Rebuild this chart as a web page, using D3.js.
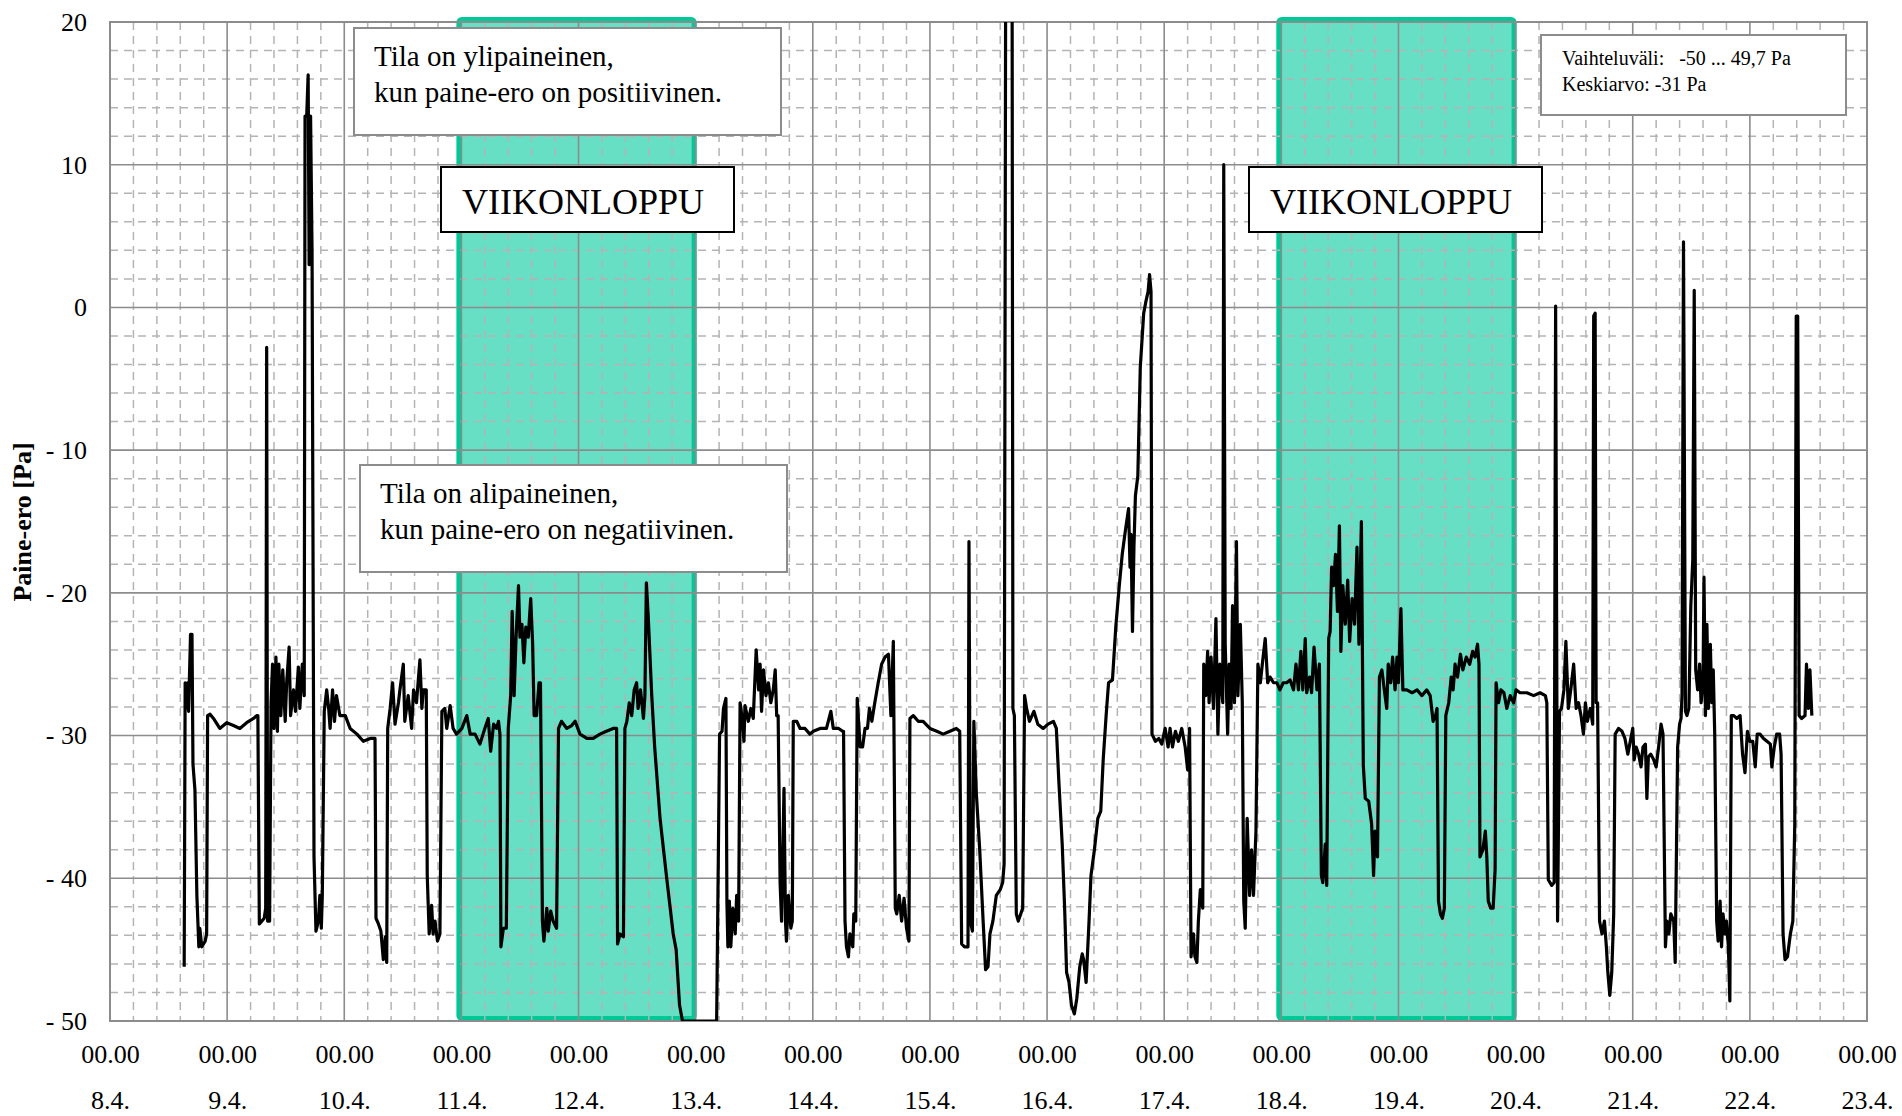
<!DOCTYPE html>
<html>
<head>
<meta charset="utf-8">
<script src="https://cdn.jsdelivr.net/npm/d3@7"></script>
<style>
  html, body { margin: 0; padding: 0; background: #fff; }
  svg { display: block; font-family: "Liberation Serif", "Times New Roman", serif; }
</style>
</head>
<body>
<svg id="chart" width="1902" height="1116"></svg>
<script>
// päivämäärät x-akselilla (klo 00.00 kunkin päivän alussa)
const dayLabels = ['8.4.', '9.4.', '10.4.', '11.4.', '12.4.', '13.4.', '14.4.', '15.4.',
  '16.4.', '17.4.', '18.4.', '19.4.', '20.4.', '21.4.', '22.4.', '23.4.'];
const yTicks = [20, 10, 0, -10, -20, -30, -40, -50];
// viikonloput, tunteina alkaen 8.4. klo 00.00
const weekendStart = [72, 240];
const weekendEnd = [120, 288];

// mittausaika tunteina 8.4. klo 00.00 alkaen
const hours = [
  15.2, 15.4, 15.6, 15.9, 16.1, 16.5, 16.8, 17.0, 17.4, 17.8, 18.2, 18.4, 18.8, 19.5, 19.8, 20.0,
  20.5, 21.2, 22.5, 23.9, 25.3, 26.6, 28.0, 29.4, 30.1, 30.3, 30.6, 31.1, 31.6, 31.9, 32.1, 32.3,
  32.7, 33.0, 33.3, 33.6, 34.0, 34.3, 34.6, 35.0, 35.4, 35.9, 36.2, 36.7, 37.0, 37.6, 38.0, 38.6,
  38.9, 39.4, 39.8, 39.96, 40.3, 40.6, 40.8, 41.1, 41.4, 41.8, 42.2, 42.7, 43.0, 43.3, 43.5, 43.9,
  44.4, 44.8, 45.1, 45.6, 46.0, 46.4, 47.1, 48.2, 49.2, 50.6, 51.9, 53.3, 54.3, 54.5, 55.0, 55.5,
  56.0, 56.4, 56.7, 56.9, 57.4, 57.9, 58.4, 59.1, 59.4, 60.1, 60.4, 61.1, 61.8, 62.2, 62.8, 63.5,
  63.9, 64.2, 64.8, 65.0, 65.4, 65.9, 66.2, 66.6, 67.1, 67.6, 68.0, 68.6, 69.0, 69.7, 70.3, 71.0,
  72.1, 73.1, 73.8, 74.8, 75.8, 76.8, 77.5, 78.0, 78.6, 79.2, 79.6, 79.9, 80.1, 80.6, 81.2, 81.6,
  82.1, 82.4, 82.8, 83.2, 83.7, 84.0, 84.4, 84.8, 85.2, 85.7, 86.2, 86.6, 86.9, 87.4, 87.9, 88.2,
  88.6, 88.9, 89.5, 89.8, 90.3, 90.8, 91.5, 91.9, 92.5, 93.6, 94.6, 95.3, 96.3, 97.7, 99.0, 100.4,
  101.7, 103.1, 103.8, 104.0, 104.5, 105.2, 105.5, 105.9, 106.4, 106.9, 107.4, 107.9, 108.2, 108.7, 109.3, 109.6,
  109.9, 110.3, 111.0, 111.6, 112.7, 114.0, 115.4, 116.0, 116.7, 117.3, 124.3, 124.9, 125.4, 125.7, 126.2, 126.4,
  126.6, 126.9, 127.2, 127.6, 128.1, 128.4, 128.8, 129.1, 129.6, 129.9, 130.1, 130.8, 131.3, 131.8, 132.4, 132.9,
  133.2, 133.5, 133.9, 134.4, 134.9, 135.4, 135.9, 136.3, 136.6, 136.9, 137.3, 137.6, 138.1, 138.4, 138.6, 139.0,
  139.5, 139.8, 140.0, 140.7, 141.4, 142.4, 143.4, 144.1, 145.5, 146.8, 147.7, 148.2, 149.3, 150.1, 150.3, 150.6,
  150.9, 151.3, 151.6, 152.2, 152.4, 152.8, 153.1, 153.7, 154.2, 154.7, 155.2, 155.6, 156.1, 156.7, 157.4, 158.1,
  158.8, 159.5, 160.0, 160.5, 160.9, 161.2, 161.7, 162.2, 162.7, 163.2, 163.7, 163.9, 164.6, 165.6, 166.6, 168.0,
  169.4, 170.7, 172.1, 173.4, 174.1, 174.5, 175.1, 175.8, 176.0, 176.3, 176.7, 177.0, 177.5, 178.2, 178.9, 179.4,
  179.9, 180.3, 180.9, 181.6, 182.4, 182.9, 183.2, 183.65, 184.75, 185.0, 185.3, 185.7, 186.1, 186.6, 187.0, 187.4,
  187.8, 188.4, 189.3, 190.1, 191.2, 192.2, 193.3, 193.9, 194.4, 195.1, 195.6, 196.0, 196.5, 197.0, 197.6, 198.1,
  198.7, 199.2, 199.5, 200.0, 200.6, 201.0, 201.7, 202.4, 203.0, 203.5, 204.1, 204.6, 205.4, 206.1, 206.8, 207.4,
  208.1, 208.7, 209.0, 209.2, 209.5, 209.8, 210.1, 210.6, 211.1, 211.8, 212.3, 212.7, 213.0, 213.3, 213.5, 214.2,
  214.9, 215.5, 216.2, 216.8, 217.2, 217.7, 218.3, 218.9, 219.6, 220.3, 220.8, 221.2, 221.5, 222.0, 222.3, 222.7,
  223.0, 223.4, 223.9, 224.1, 224.5, 224.9, 225.2, 225.6, 226.1, 226.6, 227.0, 227.4, 228.0, 228.2, 228.5, 229.0,
  229.3, 229.7, 230.0, 230.4, 230.8, 231.1, 231.6, 232.0, 232.3, 232.6, 233.0, 233.5, 233.9, 234.3, 234.8, 235.2,
  235.7, 236.1, 236.7, 237.2, 237.7, 238.4, 239.1, 239.7, 240.4, 241.1, 241.8, 242.5, 243.0, 243.5, 244.0, 244.4,
  244.9, 245.2, 245.8, 246.2, 246.7, 247.3, 247.8, 248.2, 248.5, 249.0, 249.3, 249.7, 250.0, 250.3, 250.7, 251.1,
  251.5, 251.9, 252.2, 252.6, 253.1, 253.6, 254.0, 254.5, 255.0, 255.5, 255.9, 256.4, 256.8, 257.2, 257.9, 258.5,
  258.9, 259.2, 259.7, 260.1, 260.6, 261.1, 261.6, 261.9, 262.4, 262.8, 263.3, 263.7, 264.0, 264.5, 264.9, 265.7,
  266.8, 267.8, 268.8, 269.8, 270.5, 271.1, 271.6, 271.9, 272.2, 272.6, 273.0, 273.4, 273.7, 274.3, 274.8, 275.2,
  275.6, 276.1, 276.7, 277.2, 277.9, 278.6, 279.2, 279.7, 280.2, 280.5, 280.7, 281.3, 281.8, 282.1, 282.4, 282.9,
  283.4, 283.8, 284.0, 284.5, 285.0, 285.6, 286.2, 286.9, 287.6, 288.1, 288.9, 290.3, 291.7, 293.0, 294.1, 294.4,
  294.7, 295.4, 295.9, 296.2, 296.6, 297.0, 297.4, 297.9, 298.3, 298.8, 299.3, 299.9, 300.4, 300.9, 301.4, 301.9,
  302.3, 302.7, 303.3, 303.8, 304.0, 304.3, 304.5, 304.8, 305.2, 305.7, 306.2, 306.6, 306.9, 307.3, 307.7, 308.1,
  308.4, 309.1, 309.8, 310.4, 311.0, 311.5, 312.0, 312.3, 312.7, 313.2, 313.7, 314.1, 314.6, 314.9, 315.2, 315.7,
  316.3, 316.8, 317.3, 317.8, 318.2, 318.7, 319.0, 319.4, 319.8, 320.4, 320.7, 320.9, 321.2, 321.6, 321.9, 322.1,
  322.4, 322.8, 323.1, 323.5, 323.9, 324.3, 324.6, 324.9, 325.3, 325.7, 326.0, 326.4, 326.6, 326.9, 327.2, 327.5,
  327.9, 328.2, 328.5, 328.8, 329.2, 329.5, 329.9, 330.2, 330.5, 330.9, 331.2, 331.6, 331.9, 332.2, 332.7, 333.3,
  334.0, 334.5, 335.0, 335.5, 336.0, 336.6, 337.1, 337.5, 338.1, 338.8, 339.5, 340.2, 340.5, 341.0, 341.5, 342.1,
  342.4, 342.8, 343.2, 343.7, 344.3, 344.8, 345.2, 345.5, 345.8, 346.1, 346.6, 347.3, 347.6, 348.0, 348.3, 348.7
];

// paine-ero [Pa]
const paine = [
  -46.2, -26.3, -28.1, -26.3, -28.3, -22.9, -22.9, -32.0, -33.8, -41.2, -44.8, -43.5, -44.8, -44.4, -43.9, -28.6,
  -28.5, -28.8, -29.5, -29.1, -29.3, -29.5, -29.1, -28.8, -28.6, -28.6, -43.2, -43.0, -42.8, -42.1, -2.8, -43.0,
  -43.0, -27.7, -25.0, -29.5, -24.5, -29.7, -25.0, -28.6, -25.4, -29.0, -26.3, -23.8, -28.6, -26.8, -28.3, -25.2,
  -28.1, -25.0, -27.2, 13.4, 13.4, 16.3, 3.0, 13.4, 3.9, -38.5, -43.7, -43.0, -41.2, -43.5, -41.2, -28.3,
  -26.8, -28.1, -29.5, -26.8, -29.0, -27.2, -28.6, -28.6, -29.5, -29.9, -30.4, -30.2, -30.2, -42.8, -43.2, -43.7,
  -45.7, -44.1, -45.9, -29.5, -28.1, -26.3, -29.2, -27.7, -26.8, -25.0, -29.0, -27.2, -29.5, -26.8, -27.7, -24.7,
  -28.1, -26.8, -26.8, -39.8, -43.9, -41.9, -43.9, -43.0, -44.4, -43.9, -28.3, -28.1, -29.5, -27.9, -29.5, -29.9,
  -29.5, -28.6, -29.9, -29.9, -30.6, -29.5, -28.8, -31.1, -29.2, -29.5, -29.0, -29.9, -44.8, -43.5, -43.5, -29.5,
  -27.2, -21.3, -27.2, -23.1, -19.5, -23.1, -22.2, -24.9, -22.4, -23.1, -20.4, -23.6, -28.6, -28.6, -26.3, -26.3,
  -43.0, -44.4, -42.1, -43.7, -42.3, -43.0, -43.5, -29.5, -29.0, -29.5, -29.3, -29.0, -29.9, -30.2, -30.2, -29.9,
  -29.7, -29.5, -29.5, -44.6, -43.9, -44.1, -29.5, -29.0, -27.7, -28.6, -26.8, -26.3, -28.1, -26.8, -28.8, -27.2,
  -19.3, -21.8, -27.2, -30.8, -35.8, -39.8, -43.9, -45.0, -48.9, -50.0, -50.0, -29.9, -29.7, -28.1, -27.4, -41.6,
  -44.8, -41.6, -44.8, -42.1, -43.9, -41.2, -43.0, -27.7, -29.0, -30.4, -27.9, -29.0, -28.1, -28.8, -24.0, -26.8,
  -25.0, -28.3, -25.4, -27.2, -26.3, -27.7, -26.8, -25.4, -28.6, -28.6, -40.3, -43.0, -33.7, -43.0, -44.4, -41.2,
  -43.5, -43.0, -29.0, -29.0, -29.5, -29.5, -29.9, -29.7, -29.5, -29.5, -28.3, -29.5, -29.5, -29.7, -29.7, -43.0,
  -44.8, -45.5, -43.9, -44.8, -42.5, -43.0, -27.4, -30.8, -30.8, -29.5, -29.5, -28.1, -29.0, -27.7, -26.3, -25.0,
  -24.5, -24.3, -28.6, -23.4, -42.1, -42.5, -41.2, -43.0, -41.4, -43.5, -44.4, -28.8, -28.6, -29.0, -29.0, -29.5,
  -29.7, -29.9, -29.7, -29.5, -29.7, -44.6, -44.8, -44.8, -16.4, -43.0, -43.7, -29.0, -34.0, -38.0, -43.0, -46.4,
  -46.2, -43.9, -43.0, -41.2, -40.8, -40.3, -39.0, 49.7, 49.7, -28.1, -28.6, -42.5, -43.0, -42.5, -42.1, -27.2,
  -28.1, -29.0, -28.3, -29.2, -29.5, -29.2, -29.0, -29.5, -33.1, -37.6, -42.1, -46.6, -47.3, -48.9, -49.5, -48.4,
  -46.2, -45.3, -45.7, -47.3, -43.0, -39.8, -38.0, -35.8, -35.3, -31.7, -28.6, -26.3, -26.1, -22.3, -19.5, -17.3,
  -15.5, -14.1, -18.2, -15.9, -22.7, -16.8, -13.2, -11.8, -4.2, -0.4, 0.5, 1.1, 2.3, 1.1, -29.9, -30.4,
  -30.2, -30.6, -29.5, -30.8, -29.5, -30.8, -29.7, -30.4, -29.5, -30.8, -32.4, -29.5, -45.5, -43.9, -45.5, -45.9,
  -43.0, -40.8, -42.1, -25.0, -27.2, -24.1, -27.7, -24.5, -28.1, -21.8, -29.9, -25.0, -27.7, 10.0, -23.6, -29.9,
  -25.0, -28.1, -20.9, -27.7, -16.4, -27.2, -22.2, -27.7, -41.6, -43.5, -35.8, -41.2, -38.0, -41.2, -36.7, -25.0,
  -26.3, -25.0, -23.2, -26.3, -25.9, -26.3, -26.3, -26.8, -26.3, -26.3, -26.1, -26.8, -25.0, -26.8, -24.1, -26.8,
  -23.2, -27.0, -25.9, -27.0, -23.8, -26.8, -25.0, -39.8, -40.3, -37.6, -40.5, -23.2, -22.7, -18.2, -19.5, -17.3,
  -21.3, -15.3, -24.1, -19.5, -22.2, -19.1, -23.4, -20.4, -22.2, -16.8, -23.6, -15.0, -32.1, -34.4, -34.6, -36.2,
  -39.8, -36.7, -38.5, -25.9, -25.4, -26.8, -28.1, -25.0, -26.3, -24.5, -26.8, -24.5, -26.3, -21.1, -26.8, -26.8,
  -27.0, -26.8, -27.2, -26.8, -27.2, -29.0, -28.6, -28.1, -41.6, -42.5, -42.8, -42.1, -28.6, -27.7, -25.9, -26.8,
  -25.0, -25.9, -24.3, -25.4, -24.5, -25.0, -24.1, -24.5, -23.6, -25.0, -38.5, -38.0, -36.7, -38.5, -41.6, -42.1,
  -42.1, -39.4, -26.3, -27.7, -26.8, -27.0, -28.1, -27.2, -27.7, -26.8, -27.0, -27.0, -27.2, -27.0, -27.2, -27.7,
  -40.1, -40.5, -40.3, 0.1, -43.0, -28.3, -28.1, -26.8, -23.4, -28.1, -26.8, -25.0, -28.1, -27.7, -28.6, -29.9,
  -27.7, -29.0, -28.1, -29.2, -0.6, -0.4, -27.7, -27.7, -43.0, -43.9, -43.0, -44.8, -46.6, -48.2, -46.6, -42.5,
  -29.9, -29.5, -29.7, -30.2, -31.3, -30.4, -29.5, -31.7, -30.8, -31.3, -32.2, -30.8, -30.6, -34.4, -31.5, -31.3,
  -31.7, -32.2, -30.8, -29.2, -29.9, -44.8, -43.0, -43.9, -42.5, -43.0, -45.9, -39.8, -30.8, -29.2, -28.8, -27.2,
  4.6, -28.3, -28.6, -28.1, -20.9, -17.7, 1.2, -25.4, -26.8, -25.0, -27.7, -26.3, -18.9, -28.6, -22.2, -28.1,
  -23.6, -27.7, -25.4, -29.9, -43.0, -44.4, -41.6, -44.8, -42.5, -43.9, -43.0, -44.8, -48.6, -28.6, -28.6, -28.8,
  -28.6, -31.3, -32.6, -29.7, -30.4, -30.4, -32.2, -29.9, -29.9, -30.2, -30.4, -30.6, -32.2, -30.8, -29.9, -29.9,
  -31.3, -43.9, -45.7, -45.5, -43.9, -43.0, -36.2, -0.6, -0.6, -28.6, -28.8, -28.6, -25.0, -28.1, -25.4, -28.6
];

const width = 1902, height = 1116;
const plot = { left: 110, right: 1867, top: 22, bottom: 1021 };

const svg = d3.select('#chart');
svg.append('rect').attr('width', width).attr('height', height).attr('fill', '#fff');

const x = d3.scaleLinear().domain([0, 360]).range([plot.left, plot.right]);
const y = d3.scaleLinear().domain([-50, 20]).range([plot.bottom, plot.top]);

// viikonloput
svg.append('g').selectAll('rect')
  .data(weekendStart.map((s, i) => [s, weekendEnd[i]]))
  .enter().append('rect')
  .attr('x', d => x(d[0]) - 2.5)
  .attr('y', plot.top - 2.5)
  .attr('width', d => x(d[1]) - x(d[0]) + 1)
  .attr('height', plot.bottom - plot.top)
  .attr('rx', 3)
  .attr('fill', '#66dfc4')
  .attr('stroke', '#00c896')
  .attr('stroke-width', 5);

// apuviivat
const grid = svg.append('g');
const minorX = d3.range(0, 361, 4.8).filter(h => Math.abs(h / 24 - Math.round(h / 24)) > 0.01);
const minorY = d3.range(-50, 21, 2).filter(v => v % 10 !== 0);

grid.selectAll('.mx').data(minorX).enter().append('line')
  .attr('x1', d => x(d)).attr('x2', d => x(d))
  .attr('y1', plot.top).attr('y2', plot.bottom)
  .attr('stroke', '#b4b4b4').attr('stroke-width', 1.5).attr('stroke-dasharray', '8,6');

grid.selectAll('.my').data(minorY).enter().append('line')
  .attr('x1', plot.left).attr('x2', plot.right)
  .attr('y1', d => y(d)).attr('y2', d => y(d))
  .attr('stroke', '#b4b4b4').attr('stroke-width', 1.5).attr('stroke-dasharray', '8,6');

grid.selectAll('.Mx').data(d3.range(24, 360, 24)).enter().append('line')
  .attr('x1', d => x(d)).attr('x2', d => x(d))
  .attr('y1', plot.top).attr('y2', plot.bottom)
  .attr('stroke', '#8c8c8c').attr('stroke-width', 1.6);

grid.selectAll('.My').data(yTicks.slice(1, -1)).enter().append('line')
  .attr('x1', plot.left).attr('x2', plot.right)
  .attr('y1', d => y(d)).attr('y2', d => y(d))
  .attr('stroke', '#8c8c8c').attr('stroke-width', 1.6);

svg.append('rect')
  .attr('x', plot.left).attr('y', plot.top)
  .attr('width', plot.right - plot.left).attr('height', plot.bottom - plot.top)
  .attr('fill', 'none').attr('stroke', '#8c8c8c').attr('stroke-width', 2);

// akselit
const yAxis = svg.append('g')
  .attr('transform', `translate(${plot.left},0)`)
  .call(d3.axisLeft(y).tickValues(yTicks).tickSize(0).tickPadding(23)
    .tickFormat(d => d < 0 ? '- ' + (-d) : String(d)));
yAxis.select('.domain').remove();
yAxis.attr('font-family', null).attr('font-size', 26);

const xAxis = svg.append('g')
  .attr('transform', `translate(0,${plot.bottom})`)
  .call(d3.axisBottom(x).tickValues(d3.range(0, 361, 24)).tickSize(0).tickFormat(() => '00.00'));
xAxis.select('.domain').remove();
xAxis.attr('font-family', null).attr('font-size', 26);
xAxis.selectAll('.tick text').attr('y', 42).attr('dy', 0);
xAxis.selectAll('.tick').append('text')
  .attr('fill', 'currentColor')
  .attr('y', 88)
  .text((d, i) => dayLabels[i]);

svg.append('text')
  .attr('transform', 'translate(31,522) rotate(-90)')
  .attr('text-anchor', 'middle')
  .attr('font-size', 26)
  .attr('font-weight', 'bold')
  .text('Paine-ero [Pa]');

// mittaussarja
svg.append('clipPath').attr('id', 'plotClip')
  .append('rect')
  .attr('x', plot.left).attr('y', plot.top)
  .attr('width', plot.right - plot.left).attr('height', plot.bottom - plot.top);

const line = d3.line()
  .x((d, i) => x(hours[i]))
  .y(d => y(d));

svg.append('path')
  .datum(paine)
  .attr('clip-path', 'url(#plotClip)')
  .attr('fill', 'none')
  .attr('stroke', '#000')
  .attr('stroke-width', 3.2)
  .attr('stroke-linejoin', 'round')
  .attr('d', line);

// tekstilaatikot
function noteBox(x0, y0, w, h, stroke, lines, tx, baselines, size) {
  const g = svg.append('g');
  g.append('rect')
    .attr('x', x0).attr('y', y0).attr('width', w).attr('height', h)
    .attr('fill', '#fff').attr('stroke', stroke).attr('stroke-width', 2);
  lines.forEach((t, i) => {
    g.append('text')
      .attr('x', tx).attr('y', baselines[i])
      .attr('font-size', size)
      .style('white-space', 'pre')
      .text(t);
  });
}

noteBox(354, 28, 427, 107, '#8c8c8c',
  ['Tila on ylipaineinen,', 'kun paine-ero on positiivinen.'], 374, [66, 102], 29);
noteBox(360, 465, 427, 107, '#8c8c8c',
  ['Tila on alipaineinen,', 'kun paine-ero on negatiivinen.'], 380, [503, 539], 29);
noteBox(441, 167, 293, 65, '#000', ['VIIKONLOPPU'], 462, [214], 36);
noteBox(1249, 167, 293, 65, '#000', ['VIIKONLOPPU'], 1270, [214], 36);
noteBox(1541, 35, 305, 80, '#8c8c8c',
  ['Vaihteluväli:   -50 ... 49,7 Pa', 'Keskiarvo: -31 Pa'], 1562, [65, 91], 20);
</script>
</body>
</html>
